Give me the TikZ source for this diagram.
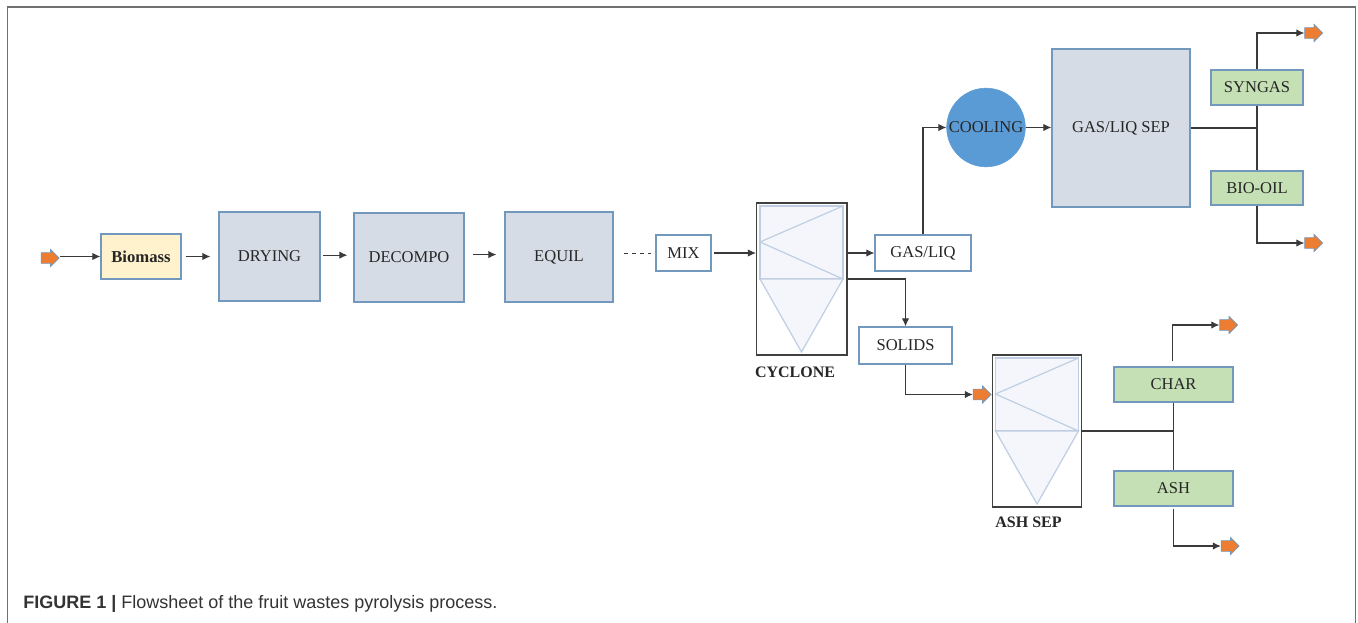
\documentclass[tikz,border=0pt]{standalone}
\usepackage{fontspec}
\setmainfont{Liberation Serif}
\newfontfamily\capfont{Liberation Sans}
\usetikzlibrary{arrows.meta,shapes.arrows}

\definecolor{edgeblue}{HTML}{7398BD}
\definecolor{unitgray}{HTML}{D6DCE5}
\definecolor{feedyellow}{HTML}{FFF2CC}
\definecolor{prodgreen}{HTML}{C5E0B4}
\definecolor{coolblue}{HTML}{5B9BD5}
\definecolor{portorange}{HTML}{ED7D31}
\definecolor{vesselfill}{HTML}{F4F6FB}
\definecolor{vesselline}{HTML}{BFCEE2}
\definecolor{linegray}{HTML}{3A3A3A}
\definecolor{framegray}{HTML}{707070}

\tikzset{
    unit/.style={draw=edgeblue, line width=0.9pt, fill=unitgray, text=black!85, font=\fontsize{12.4}{14}\selectfont, inner sep=0pt},
    stream/.style={unit, fill=white},
    product/.style={unit, fill=prodgreen},
    vessel/.style={draw=black!75, line width=0.8pt, inner sep=0pt},
    port/.style={single arrow, draw=edgeblue, line width=0.5pt, fill=portorange, minimum height=13.5pt, minimum width=13pt, single arrow head extend=2.4pt, single arrow head indent=0pt, inner sep=3.6pt},
    flow/.style={draw=linegray, line width=0.8pt, -{Latex[length=6pt,width=5.5pt]}},
    pipe/.style={draw=linegray, line width=1pt},
    tag/.style={font=\fontsize{12}{14}\selectfont\bfseries, text=black!85}
}

\begin{document}
\begin{tikzpicture}[x=0.75pt, y=-0.75pt]
    \useasboundingbox (0,0) rectangle (1358,623);
    \draw[framegray, line width=1pt] (7.5,623) -- (7.5,7) -- (1355.5,7) -- (1355.5,623);

    % main train
    \node[port] (feed) at (47.5,258) {};
    \node[unit, fill=feedyellow, minimum width=60pt, minimum height=33.75pt, font=\fontsize{12.5}{14}\selectfont\bfseries] (biomass) at (141,256.5) {Biomass};
    \node[unit, minimum width=75.75pt, minimum height=66.75pt] (drying) at (269.5,256.5) {DRYING};
    \node[unit, minimum width=82.5pt, minimum height=66.75pt] (decompo) at (409,257.5) {DECOMPO};
    \node[unit, minimum width=81pt, minimum height=67.5pt] (equil) at (559,257) {EQUIL};
    \node[stream, minimum width=41.25pt, minimum height=27pt] (mix) at (683.5,253) {MIX};

    % separators
    \node[vessel, minimum width=67.9pt, minimum height=114pt] (cyclone) at (801.75,279) {};
    \node[vessel, minimum width=67.1pt, minimum height=114pt] (ashsep) at (1036.75,431) {};
    \foreach \vx/\vy in {801.5/206,1037/358} {
        \begin{scope}[shift={(\vx,\vy)}]
            \draw[vesselline, line width=0.9pt, fill=vesselfill] (-41.5,0) rectangle (41.5,73);
            \draw[vesselline, line width=0.9pt, fill=vesselfill] (-41.5,73) -- (41.5,73) -- (0,146) -- cycle;
            \draw[vesselline, line width=0.9pt] (41.5,0) -- (-41.5,36) -- (41.5,73);
        \end{scope}
    }
    \node[tag] (cyclonetag) at (795,372) {CYCLONE};
    \node[tag] (ashseptag) at (1028.5,522) {ASH SEP};

    % gas side
    \node[stream, minimum width=72pt, minimum height=27pt] (gasliq) at (923,253) {GAS/LIQ};
    \node[circle, fill=coolblue, draw=coolblue, minimum size=59pt, inner sep=0pt, text=black!85, font=\fontsize{12.4}{14}\selectfont] (cooling) at (986,127.5) {COOLING};
    \node[unit, minimum width=103.5pt, minimum height=118.5pt] (gasliqsep) at (1121,128) {GAS/LIQ SEP};
    \node[product, minimum width=69pt, minimum height=26.25pt] (syngas) at (1257,87.5) {SYNGAS};
    \node[product, minimum width=69pt, minimum height=25.5pt] (biooil) at (1257,188) {BIO-OIL};
    \node[port] (syngasout) at (1311,33) {};
    \node[port] (biooilout) at (1311,243) {};

    % solid side
    \node[stream, minimum width=69.75pt, minimum height=27.75pt] (solids) at (905.5,345.5) {SOLIDS};
    \node[port] (ashfeed) at (979.5,394.5) {};
    \node[product, minimum width=89.25pt, minimum height=26.25pt] (char) at (1173.5,384.5) {CHAR};
    \node[product, minimum width=89.25pt, minimum height=26.25pt] (ash) at (1173.5,488.5) {ASH};
    \node[port] (charout) at (1226,325) {};
    \node[port] (ashout) at (1227.5,546) {};

    % connectors
    \draw[flow] (biomass.west -| feed.east) -- (biomass.west);
    \draw[flow, shorten <=3pt, shorten >=6pt] (biomass.east) -- (drying.west);
    \draw[flow, shorten <=1.5pt, shorten >=4.5pt] ([yshift=1pt]drying.east) -- ([yshift=1pt]drying.east -| decompo.west);
    \draw[flow, shorten <=6pt, shorten >=6pt] ([yshift=2.2pt]decompo.east) -- ([yshift=2.2pt]decompo.east -| equil.west);
    \draw[linegray, line width=0.6pt, dashed, shorten <=8pt, shorten >=3pt] (mix.west -| equil.east) -- (mix.west);
    \draw[flow, shorten <=2pt] (mix.east) -- (mix.east -| cyclone.west);
    \draw[flow] (gasliq.west -| cyclone.east) -- (gasliq.west);
    \draw[flow] (cyclone.east) -| (solids.north);
    \draw[flow] (solids.south) |- (ashfeed.west);
    \draw[flow] (gasliq.north) |- (cooling.west);
    \draw[flow] (cooling.east) -- (cooling.east -| gasliqsep.west);
    \draw[pipe] (gasliqsep.east) -- (gasliqsep.east -| syngas.south);
    \draw[pipe] (syngas.south) -- (biooil.north);
    \draw[flow] (syngas.north) |- (syngasout.west);
    \draw[flow] (biooil.south) |- (biooilout.west);
    \draw[pipe] (ashsep.east) -- (ashsep.east -| char.south);
    \draw[pipe] (char.south) -- (ash.north);
    \draw[flow, shorten <=3.75pt] ([xshift=-1pt]char.north) |- (charout.west);
    \draw[flow, shorten <=1.5pt] (ash.south) |- (ashout.west);

    % caption
    \node[anchor=west, inner sep=0pt, text=black!80, font=\capfont\fontsize{13.5}{16}\selectfont] (caption) at (23,604) {\textbf{FIGURE 1 |} Flowsheet of the fruit wastes pyrolysis process.};
\end{tikzpicture}
\end{document}
